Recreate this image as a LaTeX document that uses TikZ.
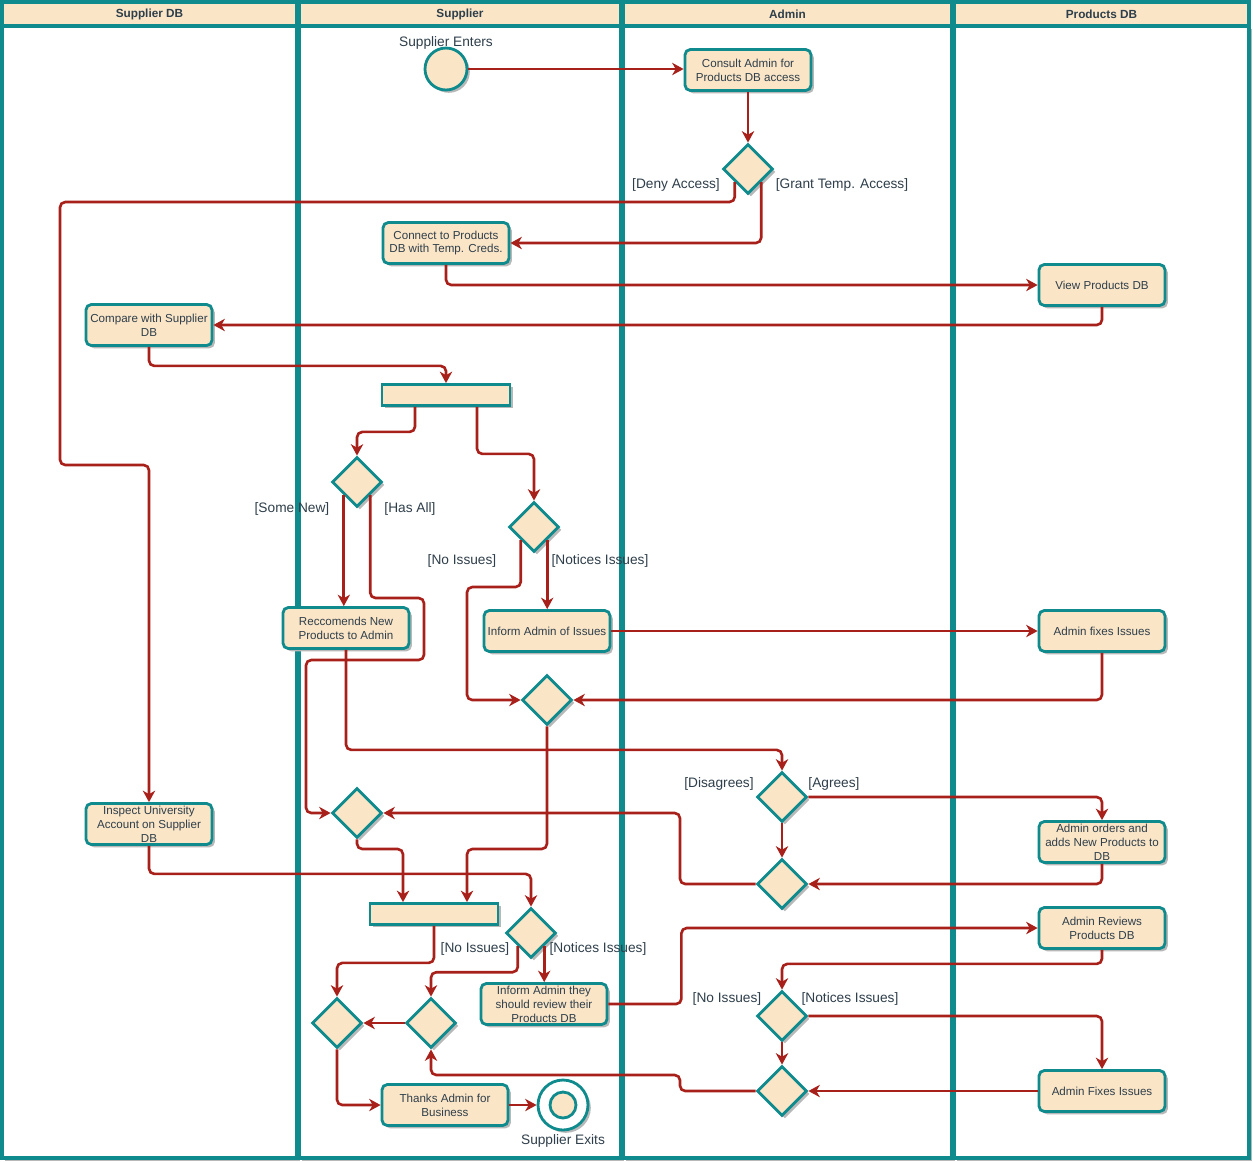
\documentclass[tikz,border=0pt]{standalone}
\usepackage{fontspec}
\setmainfont{Liberation Sans}
\usetikzlibrary{shapes.geometric,arrows.meta,shadows,calc}
\definecolor{boxfill}{HTML}{FAE5C7}
\definecolor{boxline}{HTML}{108B8D}
\definecolor{flowred}{HTML}{A8201A}
\definecolor{txt}{HTML}{2E3E4A}

\begin{document}
\begin{tikzpicture}[x=0.02cm,y=-0.02cm]
        \tikzset{shade/.style={drop shadow={shadow xshift=1.6pt,shadow yshift=-1.6pt,fill=black!28,opacity=1}},
        act/.style={draw=boxline, fill=boxfill, line width=1.6pt, rounded corners=3pt,
                minimum width=2.52cm, minimum height=0.82cm, inner sep=1pt, align=center,
                text=txt, font=\fontsize{6.6}{7.9}\selectfont, shade},
        dec/.style={diamond, draw=boxline, fill=boxfill, line width=1.6pt,
                minimum width=1cm, minimum height=1cm, inner sep=0pt, shade},
        bar/.style={draw=boxline, fill=boxfill, line width=1.6pt,
                minimum width=2.56cm, minimum height=0.42cm, inner sep=0pt, shade},
        flow/.style={draw=flowred, line width=1.5pt, rounded corners=3pt,
                -{Stealth[length=6.5pt,width=7pt,inset=2pt]}},
        lbl/.style={text=txt, font=\fontsize{7.8}{9}\selectfont, inner sep=0pt},
        lane/.style={draw=boxline, fill=white, line width=2.2pt, shade},
        head/.style={draw=boxline, fill=boxfill, line width=2.2pt}}
        \useasboundingbox (0,0) rectangle (1253,1161);
        \foreach \l/\r/\name in {2/297/Supplier DB, 299/621/Supplier, 623/952/Admin, 954/1249/Products DB}{
                \draw[lane] (\l,26) rectangle (\r,1158);
                \draw[head] (\l,2) rectangle (\r,26);
                \node[text=txt, font=\bfseries\fontsize{6.7}{8}\selectfont] (hd\l) at ({(\l+\r)/2},14) {\name};
        }
        \node[circle, draw=boxline, fill=boxfill, line width=1.6pt, minimum size=0.84cm, inner sep=0pt, shade] (start) at (446,69) {};
        \node[lbl] (startlbl) at (446,43) {Supplier Enters};
        \node[act] (consult) at (748,70) {Consult Admin for\\Products DB access};
        \node[dec] (d1) at (748,169) {};
        \node[act] (connect) at (446,243) {Connect to Products\\DB with Temp. Creds.};
        \node[act] (view) at (1102,285) {View Products DB};
        \node[act] (compare) at (149,325) {Compare with Supplier\\DB};
        \node[bar] (bar1) at (446,395) {};
        \node[dec] (d2) at (357,482) {};
        \node[dec] (d3) at (534,527) {};
        \node[act] (rec) at (346,628) {Reccomends New\\Products to Admin};
        \node[act] (inform) at (547,631) {Inform Admin of Issues};
        \node[act] (fix1) at (1102,631) {Admin fixes Issues};
        \node[dec] (d4) at (547,700) {};
        \node[dec] (d5) at (782,797) {};
        \node[act] (inspect) at (149,824) {Inspect University\\Account on Supplier\\DB};
        \node[dec] (d6) at (357,813) {};
        \node[act] (orders) at (1102,842) {Admin orders and\\adds New Products to\\DB};
        \node[dec] (d7) at (782,884) {};
        \node[bar] (bar2) at (434,914) {};
        \node[dec] (d8) at (531,933) {};
        \node[act] (arev) at (1102,928) {Admin Reviews\\Products DB};
        \node[act] (review) at (544,1004) {Inform Admin they\\should review their\\Products DB};
        \node[dec] (d9) at (782,1016) {};
        \node[dec] (d10) at (337,1023) {};
        \node[dec] (d11) at (431,1023) {};
        \node[dec] (d12) at (782,1091) {};
        \node[act] (afix) at (1102,1091) {Admin Fixes Issues};
        \node[act] (thanks) at (445,1105) {Thanks Admin for\\Business};
        \node[circle, draw=boxline, fill=white, line width=1.6pt, minimum size=1cm, inner sep=0pt, shade] (exit) at (563,1105) {};
        \node[circle, draw=boxline, fill=boxfill, line width=1.6pt, minimum size=0.52cm, inner sep=0pt] (exitin) at (exit) {};
        \node[lbl] (exitlbl) at (563,1141) {Supplier Exits};
        \node[lbl] (l1) at (676,185) {[Deny Access]};
        \node[lbl] (l2) at (842,185) {[Grant Temp. Access]};
        \node[lbl] (l3) at (292,509) {[Some New]};
        \node[lbl] (l4) at (410,509) {[Has All]};
        \node[lbl] (l5) at (462,561) {[No Issues]};
        \node[lbl] (l6) at (600,561) {[Notices Issues]};
        \node[lbl] (l7) at (719,784) {[Disagrees]};
        \node[lbl] (l8) at (834,784) {[Agrees]};
        \node[lbl] (l9) at (475,949) {[No Issues]};
        \node[lbl] (l10) at (598,949) {[Notices Issues]};
        \node[lbl] (l11) at (727,999) {[No Issues]};
        \node[lbl] (l12) at (850,999) {[Notices Issues]};
        \draw[flow] (start.east) -- (start.east -| consult.west);
        \draw[flow] (consult) -- (d1);
        \draw[flow] (d1.south west) |- (60,202) -- (60,465) -| (inspect.north);
        \draw[flow] (d1.south east) |- (connect.east);
        \draw[flow] (connect.south) |- (view.west);
        \draw[flow] (view.south) |- (compare.east);
        \draw[flow] (compare.south) -- ++(0,19) -| (bar1.north);
        \draw[flow] ($(bar1.south)+(-31,0)$) -- ++(0,25) -| (d2.north);
        \draw[flow] ($(bar1.south)+(31,0)$) -- ++(0,47) -| (d3.north);
        \draw[flow] (d2.south west) -- (d2.south west |- rec.north);
        \draw[flow] (d2.south east) |- (424,598) |- (306,660) |- (d6.west);
        \draw[flow] (d3.south west) |- (467,587) |- (d4.west);
        \draw[flow] (d3.south east) -- (d3.south east |- inform.north);
        \draw[flow] (inform) -- (fix1);
        \draw[flow] (fix1.south) |- (d4.east);
        \draw[flow] (rec.south) -- ++(0,100) -| (d5.north);
        \draw[flow] (d4.south) |- (467,849) -- ($(bar2.north)+(33,0)$);
        \draw[flow] (d5.east) -| (orders.north);
        \draw[flow] (d5) -- (d7);
        \draw[flow] (orders.south) |- (d7.east);
        \draw[flow] (d7.west) -| (680,813) -- (d6.east);
        \draw[flow] (d6.south) |- (403,849) -- ($(bar2.north)+(-31,0)$);
        \draw[flow] (inspect.south) -- ++(0,28) -| (d8.north);
        \draw[flow] (bar2.south) -- ++(0,37) -| (d10.north);
        \draw[flow] (d8.south west) -- ++(0,26) -| (d11.north);
        \draw[flow] (d8.south east) -- (d8.south east |- review.north);
        \draw[flow] (review.east) -- ++(73,0) |- (arev.west);
        \draw[flow] (arev.south) -- ++(0,14) -| (d9.north);
        \draw[flow] (d9.east) -| (afix.north);
        \draw[flow] (d9) -- (d12);
        \draw[flow] (afix) -- (d12);
        \draw[flow] (d12.west) -| (680,1075) -| (d11.south);
        \draw[flow] (d11) -- (d10);
        \draw[flow] (d10.south) |- (thanks.west);
        \draw[flow] (thanks) -- (exit);
    \end{tikzpicture}
\end{document}
